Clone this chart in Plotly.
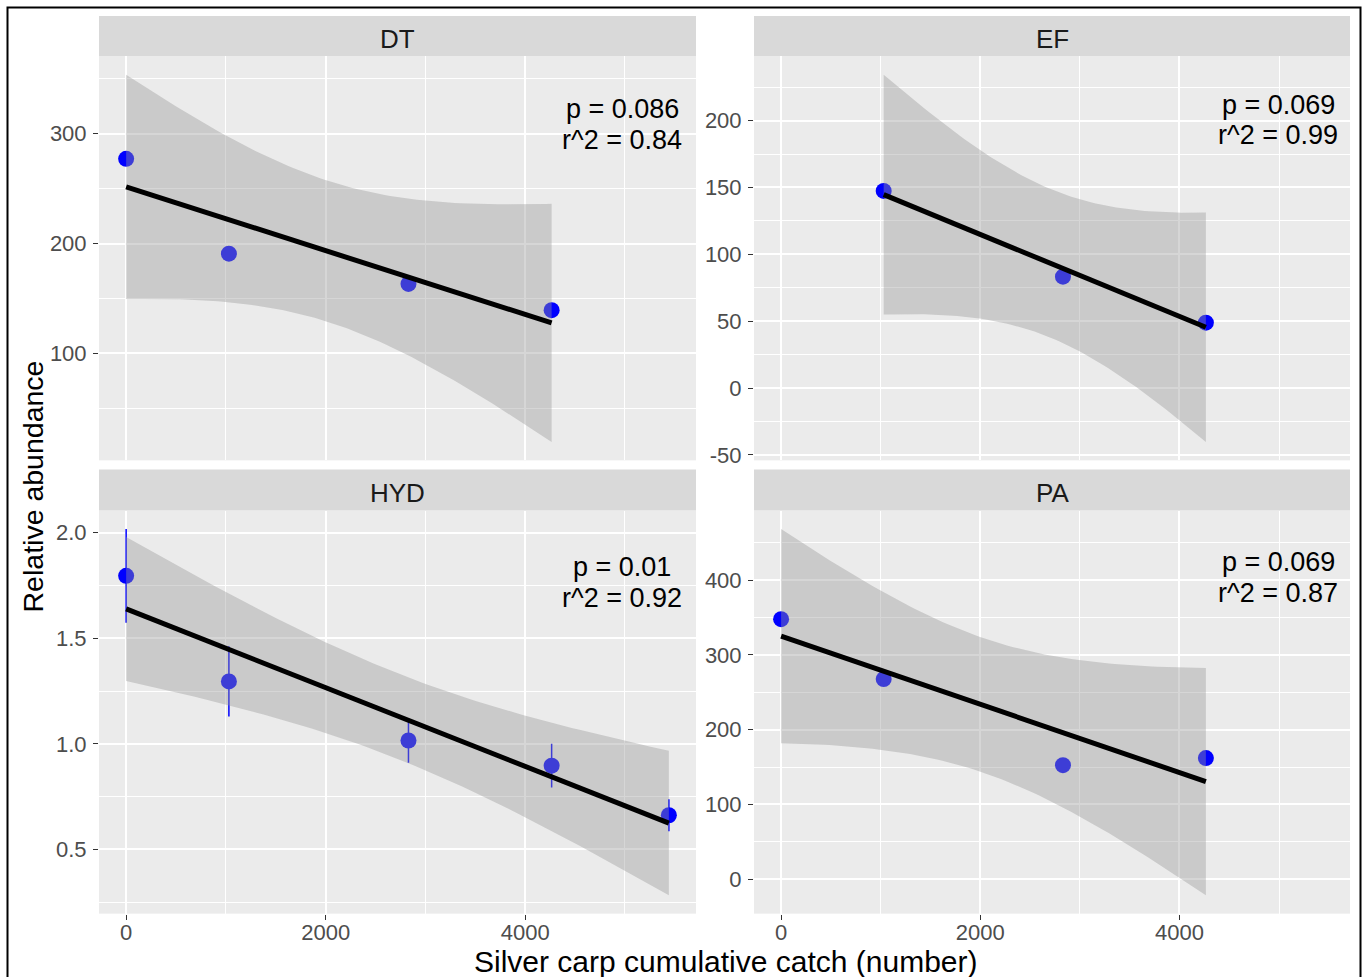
import numpy as np
import plotly.graph_objects as go

# ---------------- data ----------------
facets = ["DT", "EF", "HYD", "PA"]

x_dt = [0, 1030, 2830, 4265]
y_dt = [277.1, 190.8, 163.3, 139.4]

x_ef = [1030, 2830, 4265]
y_ef = [147.4, 83.3, 48.9]

x_hyd = [0, 1030, 2830, 4265, 5440]
y_hyd = [1.796, 1.296, 1.016, 0.897, 0.662]
err_hyd = [0.222, 0.166, 0.105, 0.104, 0.076]

x_pa = [0, 1030, 2830, 4265]
y_pa = [347.8, 267.6, 152.5, 161.9]

p_labels = ["p = 0.086", "p = 0.069", "p = 0.01", "p = 0.069"]
r2_labels = ["r^2 = 0.84", "r^2 = 0.99", "r^2 = 0.92", "r^2 = 0.87"]

x_ticks = [0, 2000, 4000]
x_tick_labels = ["0", "2000", "4000"]

x_title = "Silver carp cumulative catch (number)"
y_title = "Relative abundance"

# ---------------- layout constants ----------------
W, H = 1365, 977          # design canvas (reference pixels)
H_LAYOUT = 989            # layout height that renders onto the 977 px canvas
FONT = "Liberation Sans, Arial, sans-serif"
col_px = [(99, 696), (754, 1350)]
row_px = [((16, 56), (56, 458)), ((467, 508), (508, 909))]
y_dticks = [100, 50, 0.5, 100]
y_decimals = [0, 0, 1, 0]
label_y_px = [(108, 139), (104, 134), (564, 595), (559, 590)]
label_x_px = [622, 1278]

T975 = {1: 12.7062, 2: 4.3027, 3: 3.1824}


def px_x(p):
    return p / W


def px_y(p):
    return 1 - p / H


def smooth(x, y, n=80):
    """lm fit with 95% confidence band, like geom_smooth(method='lm')."""
    x = np.asarray(x, float)
    y = np.asarray(y, float)
    b, a = np.polyfit(x, y, 1)
    grid = np.linspace(x.min(), x.max(), n)
    fit = a + b * grid
    resid = y - (a + b * x)
    df = len(x) - 2
    s = np.sqrt((resid ** 2).sum() / df)
    sxx = ((x - x.mean()) ** 2).sum()
    se = s * np.sqrt(1 / len(x) + (grid - x.mean()) ** 2 / sxx)
    t = T975[df]
    return grid, fit, fit - t * se, fit + t * se


data = [
    (x_dt, y_dt, None),
    (x_ef, y_ef, None),
    (x_hyd, y_hyd, err_hyd),
    (x_pa, y_pa, None),
]

all_x = x_dt + x_ef + x_hyd + x_pa
xmin, xmax = min(all_x), max(all_x)
xpad = 0.05 * (xmax - xmin)
x_range = [xmin - xpad, xmax + xpad]

fig = go.Figure()
layout = {}
shapes = []
annotations = []
tickfont = dict(family=FONT, size=22, color="#4D4D4D")

for i, (xs, ys, err) in enumerate(data):
    r, c = divmod(i, 2)
    suffix = "" if i == 0 else str(i + 1)
    xa, ya = "x" + suffix, "y" + suffix

    grid, fit, lo, hi = smooth(xs, ys)

    # points (with error bars for HYD)
    marker_kw = dict(
        x=xs, y=ys, mode="markers", xaxis=xa, yaxis=ya, showlegend=False,
        marker=dict(color="#0000FF", size=16, line=dict(width=0)),
        hoverinfo="x+y",
    )
    if err is not None:
        marker_kw["error_y"] = dict(type="data", array=err, color="#0000FF",
                                    thickness=1.5, width=0)
    fig.add_trace(go.Scatter(**marker_kw))

    # confidence ribbon
    fig.add_trace(go.Scatter(
        x=list(grid) + list(grid[::-1]), y=list(hi) + list(lo[::-1]),
        mode="lines", fill="toself", fillcolor="rgba(153,153,153,0.4)",
        line=dict(width=0), xaxis=xa, yaxis=ya, showlegend=False,
        hoverinfo="skip",
    ))
    # fitted line
    fig.add_trace(go.Scatter(
        x=grid, y=fit, mode="lines", line=dict(color="black", width=5),
        xaxis=xa, yaxis=ya, showlegend=False, hoverinfo="skip",
    ))

    # y range with ggplot 5% expansion
    e = np.zeros(len(ys)) if err is None else np.asarray(err)
    yarr = np.asarray(ys)
    ylo = min(lo.min(), (yarr - e).min())
    yhi = max(hi.max(), (yarr + e).max())
    ypad = 0.05 * (yhi - ylo)
    y_range = [ylo - ypad, yhi + ypad]

    d = y_dticks[i]
    k0 = int(np.ceil(y_range[0] / d))
    k1 = int(np.floor(y_range[1] / d))
    yt = [k * d for k in range(k0, k1 + 1)]
    ytxt = [f"{v:.{y_decimals[i]}f}" for v in yt]   # ASCII hyphen minus, like R

    (s0, s1), (p0, p1) = row_px[r]
    c0, c1 = col_px[c]

    layout["xaxis" + suffix] = dict(
        domain=[px_x(c0), px_x(c1)], range=x_range, anchor=ya,
        tickmode="array", tickvals=x_ticks, ticktext=x_tick_labels,
        showgrid=True, gridcolor="white", gridwidth=1.6,
        minor=dict(tickmode="linear", tick0=0, dtick=1000, showgrid=True,
                   gridcolor="white", gridwidth=0.8),
        zeroline=False, showline=False,
        showticklabels=(r == 1), ticks="outside" if r == 1 else "",
        ticklen=5, tickwidth=1.3, tickcolor="#333333",
        tickfont=tickfont, ticklabelstandoff=-6,
    )
    layout["yaxis" + suffix] = dict(
        domain=[px_y(p1), px_y(p0)], range=y_range, anchor=xa,
        tickmode="array", tickvals=yt, ticktext=ytxt,
        showgrid=True, gridcolor="white", gridwidth=1.6,
        minor=dict(tickmode="linear", tick0=0, dtick=d / 2,
                   showgrid=True, gridcolor="white", gridwidth=0.8),
        zeroline=False, showline=False,
        ticks="outside", ticklen=5, tickwidth=1.3, tickcolor="#333333",
        tickfont=tickfont, ticklabelstandoff=2,
    )

    # strip
    shapes.append(dict(type="rect", xref="paper", yref="paper",
                       x0=px_x(c0), x1=px_x(c1), y0=px_y(s1), y1=px_y(s0),
                       fillcolor="#D9D9D9", line=dict(width=0), layer="below"))
    annotations.append(dict(text=facets[i], xref="paper", yref="paper",
                            x=px_x((c0 + c1) / 2), y=px_y((s0 + s1) / 2 + 2.5),
                            xanchor="center", yanchor="middle", showarrow=False,
                            font=dict(family=FONT, size=26, color="#1A1A1A")))
    # stats text
    ly1, ly2 = label_y_px[i]
    for txt, ly in ((p_labels[i], ly1), (r2_labels[i], ly2)):
        annotations.append(dict(text=txt, xref="paper", yref="paper",
                                x=px_x(label_x_px[c]), y=px_y(ly),
                                xanchor="center", yanchor="middle", showarrow=False,
                                font=dict(family=FONT, size=27, color="black")))

# axis titles
annotations.append(dict(text=y_title, xref="paper", yref="paper",
                        x=px_x(33), y=px_y(484), textangle=-90,
                        xanchor="center", yanchor="middle", showarrow=False,
                        font=dict(family=FONT, size=28.5, color="black")))
annotations.append(dict(text=x_title, xref="paper", yref="paper",
                        x=px_x(726), y=px_y(957),
                        xanchor="center", yanchor="middle", showarrow=False,
                        font=dict(family=FONT, size=30, color="black")))

# outer frame
shapes.append(dict(type="rect", xref="paper", yref="paper",
                   x0=px_x(7.5), x1=px_x(1360.5), y0=px_y(975.5), y1=px_y(7.5),
                   line=dict(color="black", width=2), fillcolor="rgba(0,0,0,0)"))

fig.update_layout(
    width=W, height=H_LAYOUT, autosize=False, margin=dict(l=0, r=0, t=0, b=0),
    paper_bgcolor="white", plot_bgcolor="#EBEBEB",
    shapes=shapes, annotations=annotations, showlegend=False,
    font=dict(family=FONT),
    **layout,
)

fig.write_html("out.html", config={"responsive": False})
